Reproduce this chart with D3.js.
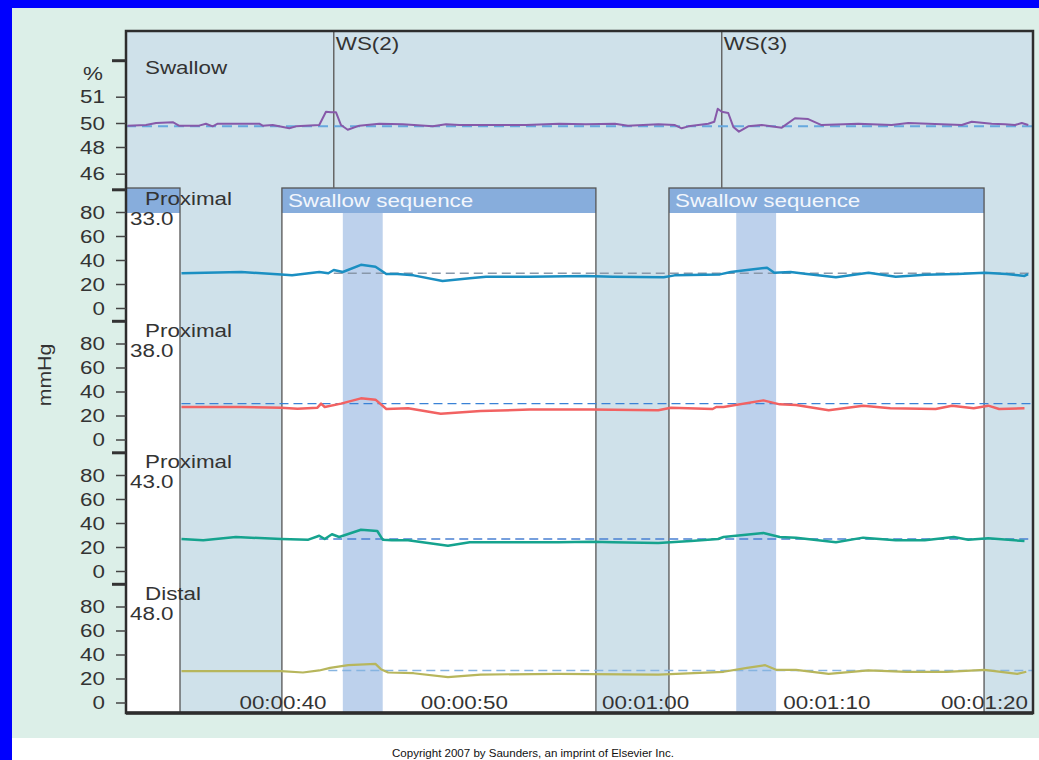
<!DOCTYPE html>
<html>
<head>
<meta charset="utf-8">
<script src="https://cdn.jsdelivr.net/npm/d3@7"></script>
<style>
  body { margin: 0; background: #fff; overflow: hidden; }
  svg { display: block; font-family: "Liberation Sans", Arial, sans-serif; }
</style>
</head>
<body>
<svg id="chart" width="1039" height="760"></svg>
<script>
// ---- data (time in seconds) ----
const timeTicks = [40, 50, 60, 70, 80]
const swallowTicks = [46, 48, 50, 51]
const pressureTicks = [0, 20, 40, 60, 80]
const channelNames = ["Proximal", "Proximal", "Proximal", "Distal"]
const channelDepths = ["33.0", "38.0", "43.0", "48.0"]
const swallowEvents = [{label: "WS(2)", t: 42.8}, {label: "WS(3)", t: 64.2}]
const sequenceWindows = [[39.94, 57.26], [61.29, 78.67]]
const peakBands = [[43.3, 45.5], [65.0, 67.2]]

const swallowTrace = [[31.43,49.78],[32.44,49.83],[33.0,50.0],[33.92,50.03],[34.26,49.78],[35.37,49.78],[35.75,49.94],[36.12,49.72],[36.4,49.94],[38.69,49.94],[38.88,49.78],[39.43,49.83],[40.35,49.56],[40.72,49.72],[42.0,49.83],[42.37,50.43],[42.65,50.41],[42.92,50.41],[43.2,49.83],[43.57,49.44],[44.21,49.78],[45.31,49.94],[46.6,49.9],[48.26,49.72],[48.99,49.89],[49.72,49.83],[51.57,49.83],[53.4,49.83],[55.24,49.94],[56.71,49.9],[58.31,49.94],[59.03,49.78],[60.7,49.9],[61.62,49.83],[61.99,49.56],[62.36,49.72],[63.46,49.94],[63.79,50.05],[63.98,50.54],[64.2,50.43],[64.56,50.38],[64.84,49.67],[65.15,49.28],[65.66,49.72],[66.4,49.83],[67.51,49.61],[68.24,50.18],[68.97,50.15],[69.71,49.83],[71.73,49.94],[73.57,49.83],[74.49,50.0],[77.44,49.83],[77.99,50.05],[79.09,49.94],[79.82,49.9],[80.38,49.83],[80.75,50.0],[81.11,49.83]]
const swallowBaseline = 49.72

const proximal33 = [[34.4,28.9],[37.7,30],[39.9,28],[40.5,27.2],[42.0,30],[42.5,29],[42.8,31.7],[43.3,30],[44.3,36],[45.1,34.4],[45.7,28.3],[46.3,28.3],[47.2,27.2],[48.8,22.5],[50.3,24.7],[51.2,26],[53.6,26],[56.7,26.7],[58.2,26],[61.0,25.6],[61.6,27.2],[64.1,28],[64.7,30],[65.6,31.7],[66.7,33.6],[67.1,29.4],[68.0,30],[68.9,28.3],[70.5,25.6],[72.3,29.4],[73.8,26],[75.4,27.8],[77.2,28.3],[78.7,29.4],[79.9,28.3],[80.9,26.7],[81.1,28.3]]
const proximal38 = [[34.4,27.1],[37.7,27.1],[39.9,26.5],[40.8,25.7],[41.9,26.5],[42.1,29.9],[42.3,27.1],[43.2,29.9],[44.3,34.3],[45.1,33.2],[45.7,25.4],[46.9,26],[48.7,21.5],[50.9,23.8],[53.6,24.9],[57.0,24.9],[60.7,24.3],[61.4,26.5],[63.7,25.4],[63.9,27.1],[64.3,27.1],[66.5,32.6],[67.4,29.3],[68.3,28.8],[70.1,24.3],[72.0,28.2],[73.5,26],[76.0,25.4],[76.9,28.2],[78.1,26],[78.9,28.2],[79.5,25.4],[80.9,26]]
const proximal43 = [[34.4,26.7],[35.6,25.6],[37.4,28.3],[39.9,26.7],[41.4,26.1],[42.0,29.4],[42.3,26.7],[42.7,30.6],[43.1,28.3],[44.3,34.4],[45.2,33.3],[45.5,26.1],[46.0,25.6],[46.9,25.6],[49.1,21.1],[50.3,23.9],[52.1,23.9],[55.2,23.9],[57.0,24.4],[58.2,23.9],[60.7,23.3],[62.5,25],[64.0,26.7],[64.3,28.3],[66.5,31.7],[67.4,28.3],[68.3,27.8],[70.5,23.9],[72.0,27.8],[73.8,25.6],[75.4,25.6],[77.0,28.3],[77.8,26.1],[78.9,27.2],[80.9,25]]
const distal48 = [[34.4,26.1],[39.9,26.1],[41.1,25],[42.0,26.7],[42.6,28.9],[43.6,31.1],[45.1,32.2],[45.4,27.8],[45.8,25],[47.2,24.4],[49.1,21.1],[50.9,23.3],[55.2,23.9],[60.7,23.3],[64.3,25.6],[65.6,28.9],[66.6,31.1],[67.2,27.2],[68.3,27.2],[70.1,23.9],[72.3,26.7],[74.4,25.6],[76.6,25.6],[78.7,27.2],[80.5,23.9],[81.0,25.6]]
const channelTraces = [proximal33, proximal38, proximal43, distal48]
const channelBaselines = [29, 29.9, 26.7, 26.7]
const baselineStarts = [42.8, 34.4, 42.0, 42.5]

// ---- styles ----
const traceColors = ["#1b8fc2", "#f26262", "#15a38e", "#b7b65c"]
const traceWidths = [2.5, 2.5, 2.5, 2.2]
const baseColors = ["#8897a9", "#3a82d6", "#4a80d2", "#86b4e0"]
const headerFill = "#87addc"
const bandFill = "#bdd1ec"
const panelFill = "#cfe1ea"
const inkColor = "#333"
const SX = 1.28   // the source picture is stretched sideways

// frame geometry
const L = 126, R = 1033, T = 31, B = 713
const boxTop = 188, headTop = 188, headBottom = 213
const colRight = 180

const svg = d3.select("#chart")

// scales
const x = d3.scaleLinear().domain([31.34, 81.37]).range([L, R])
const ySwallow = d3.scaleLinear().domain([46, 48, 50, 51]).range([173.7, 147, 123, 96.7])
const panelZero = i => 308 + i * 131.5
const yPanel = i => d3.scaleLinear().domain([0, 100]).range([panelZero(i), panelZero(i) - 120])

const addText = (g, px, py, str, opts = {}) => g.append("text")
  .attr("transform", `translate(${px},${py}) scale(${opts.sx || SX},1)`)
  .attr("text-anchor", opts.anchor || "start")
  .attr("font-size", opts.size || 17.5)
  .attr("fill", opts.fill || inkColor)
  .text(str)

// page background
svg.append("rect").attr("width", 1039).attr("height", 760).attr("fill", "#fff")
svg.append("rect").attr("x", 12).attr("y", 8).attr("width", 1027).attr("height", 730).attr("fill", "#dcefe8")
svg.append("rect").attr("width", 12).attr("height", 760).attr("fill", "#0000fe")
svg.append("rect").attr("width", 1039).attr("height", 8).attr("fill", "#0000fe")

// plot area
svg.append("rect").attr("x", L).attr("y", T).attr("width", R - L).attr("height", B - T).attr("fill", panelFill)

// label column on the left
svg.append("rect").attr("x", L).attr("y", headBottom).attr("width", colRight - L).attr("height", B - headBottom).attr("fill", "#fff")
svg.append("rect").attr("x", L).attr("y", headTop).attr("width", colRight - L).attr("height", headBottom - headTop).attr("fill", headerFill)

// swallow sequence windows
const win = svg.append("g")
win.selectAll(".win-body").data(sequenceWindows).join("rect")
  .attr("x", d => x(d[0])).attr("y", headBottom)
  .attr("width", d => x(d[1]) - x(d[0])).attr("height", B - headBottom)
  .attr("fill", "#fff")
win.selectAll(".win-head").data(sequenceWindows).join("rect")
  .attr("x", d => x(d[0])).attr("y", headTop)
  .attr("width", d => x(d[1]) - x(d[0])).attr("height", headBottom - headTop)
  .attr("fill", headerFill)

// peak bands
svg.selectAll(".band").data(peakBands).join("rect")
  .attr("x", d => x(d[0])).attr("y", headBottom)
  .attr("width", d => x(d[1]) - x(d[0])).attr("height", B - headBottom)
  .attr("fill", bandFill)

// outlines of column and windows
svg.append("rect").attr("x", L).attr("y", boxTop).attr("width", colRight - L).attr("height", B - boxTop)
  .attr("fill", "none").attr("stroke", "#555").attr("stroke-width", 1.3)
win.selectAll(".win-edge").data(sequenceWindows).join("rect")
  .attr("x", d => x(d[0])).attr("y", boxTop)
  .attr("width", d => x(d[1]) - x(d[0])).attr("height", B - boxTop)
  .attr("fill", "none").attr("stroke", "#555").attr("stroke-width", 1.3)
sequenceWindows.forEach(d => addText(win, x(d[0]) + 6, 207, "Swallow sequence", {fill: "#f2f6fc"}))

// wet swallow markers
svg.selectAll(".ws").data(swallowEvents).join("line")
  .attr("x1", d => x(d.t)).attr("x2", d => x(d.t))
  .attr("y1", T).attr("y2", boxTop)
  .attr("stroke", "#666").attr("stroke-width", 1.5)
swallowEvents.forEach(d => addText(svg, x(d.t) + 2, 50, d.label))

// swallow channel
svg.append("line")
  .attr("x1", L).attr("x2", R)
  .attr("y1", ySwallow(swallowBaseline)).attr("y2", ySwallow(swallowBaseline))
  .attr("stroke", "#66a8de").attr("stroke-width", 2).attr("stroke-dasharray", "10,6")
svg.append("path")
  .datum(swallowTrace)
  .attr("fill", "none").attr("stroke", "#8759a9").attr("stroke-width", 2).attr("stroke-linejoin", "round")
  .attr("d", d3.line().x(d => x(d[0])).y(d => ySwallow(d[1])))

// pressure channels
channelTraces.forEach((trace, i) => {
  const y = yPanel(i)
  svg.append("line")
    .attr("x1", x(baselineStarts[i])).attr("x2", R)
    .attr("y1", y(channelBaselines[i])).attr("y2", y(channelBaselines[i]))
    .attr("stroke", baseColors[i]).attr("stroke-width", 1.4).attr("stroke-dasharray", "9,5")
  svg.append("path")
    .datum(trace)
    .attr("fill", "none").attr("stroke", traceColors[i]).attr("stroke-width", traceWidths[i])
    .attr("stroke-linejoin", "round")
    .attr("d", d3.line().x(d => x(d[0])).y(d => y(d[1])))
})

// frame
svg.append("rect").attr("x", L).attr("y", T).attr("width", R - L).attr("height", B - T)
  .attr("fill", "none").attr("stroke", "#2d2d2d").attr("stroke-width", 2.5)
svg.append("line").attr("x1", L).attr("x2", R).attr("y1", B).attr("y2", B)
  .attr("stroke", "#2d2d2d").attr("stroke-width", 3.5)

// left axes
const drawAxis = (scale, values) => {
  const g = svg.append("g").attr("transform", `translate(${L},0)`)
    .call(d3.axisLeft(scale).tickValues(values).tickSize(10).tickFormat(d3.format("d")))
  g.select(".domain").remove()
  g.selectAll(".tick line").attr("stroke", "#444").attr("stroke-width", 1.5)
  g.selectAll(".tick text")
    .attr("x", null).attr("dy", null)
    .attr("transform", `translate(-21,6) scale(${SX},1)`)
    .attr("font-size", 17.5).attr("font-family", null).attr("fill", inkColor)
}
drawAxis(ySwallow, swallowTicks)
channelTraces.forEach((t, i) => drawAxis(yPanel(i), pressureTicks))

// heavy panel-top ticks
const heavy = [60.7].concat(channelTraces.map((t, i) => yPanel(i)(98.5)))
svg.selectAll(".heavy").data(heavy).join("line")
  .attr("x1", L - 14).attr("x2", L).attr("y1", d => d).attr("y2", d => d)
  .attr("stroke", "#333").attr("stroke-width", 3)

// panel labels
addText(svg, 103, 80, "%", {anchor: "end"})
addText(svg, 145, 74, "Swallow")
channelNames.forEach((name, i) => {
  addText(svg, 145, panelZero(i) - 103, name)
  addText(svg, 130, panelZero(i) - 83, channelDepths[i])
})

svg.append("text")
  .attr("transform", "translate(51,375) rotate(-90) scale(1.15,1)")
  .attr("text-anchor", "middle").attr("font-size", 18.5)
  .attr("fill", inkColor).text("mmHg")

// time labels along the bottom, kept inside the frame
const fmtTime = t => `00:${String(Math.floor(t / 60)).padStart(2, "0")}:${String(t % 60).padStart(2, "0")}`
timeTicks.forEach(t => {
  const lbl = addText(svg, x(t), 709, fmtTime(t), {anchor: "middle"})
  const w = lbl.node().getComputedTextLength() * SX
  const cx = Math.min(x(t), R - 5 - w / 2)
  lbl.attr("transform", `translate(${cx},709) scale(${SX},1)`)
})

// credit line
addText(svg, 392, 757, "Copyright 2007 by Saunders, an imprint of Elsevier Inc.", {size: 10.5, fill: "#111", sx: 1.1})
</script>
</body>
</html>
